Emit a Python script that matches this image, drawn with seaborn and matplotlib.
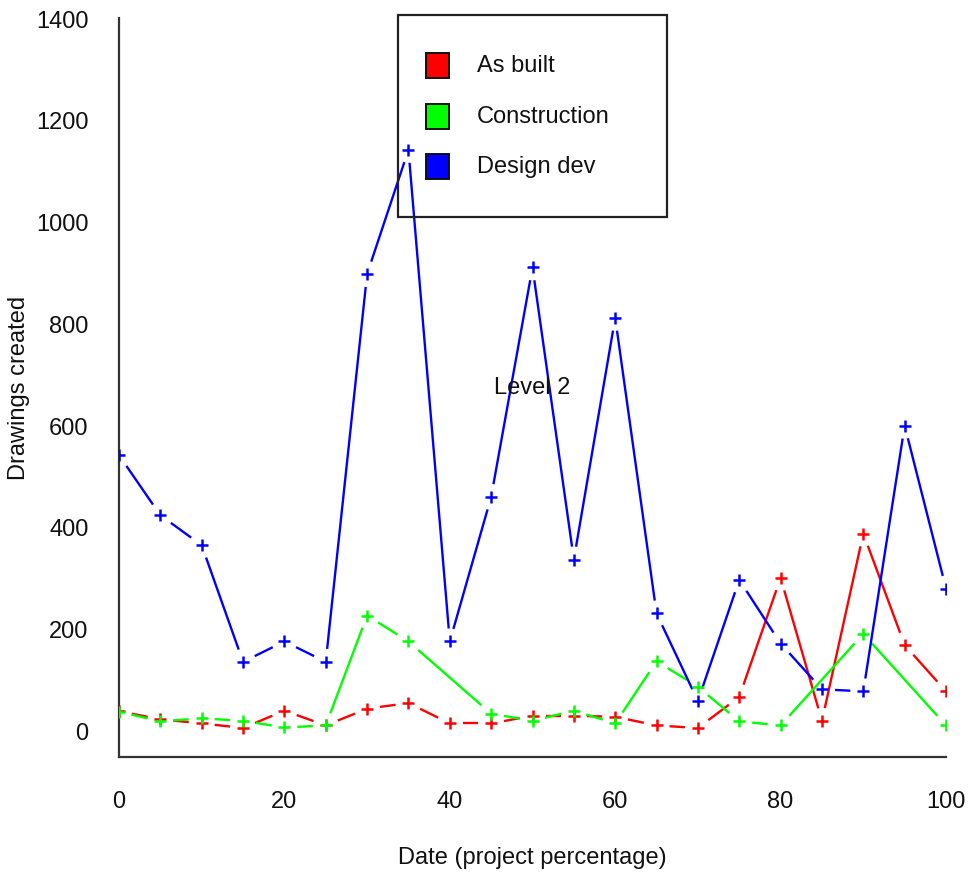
import numpy as np
import pandas as pd
import matplotlib
matplotlib.use("Agg")
import matplotlib.pyplot as plt
from matplotlib.collections import LineCollection
from matplotlib.patches import Rectangle
import seaborn as sns

# Drawings created per 5% step of the project
pct = [0, 5, 10, 15, 20, 25, 30, 35, 40, 45, 50, 55, 60, 65, 70, 75, 80, 85, 90, 95, 100]
as_built = [38, 22, 14, 5, 39, 10, 43, 54, 14, 14, 29, 29, 27, 10, 5, 66, 300, 19, 387, 168, 77]
design_dev = [541, 423, 364, 135, 175, 135, 897, 1141, 175, 459, 910, 336, 811, 230, 58, 296, 171, 81, 77, 599, 279]
# construction has no entries at 40, 85 and 95
constr_pct = [0, 5, 10, 15, 20, 25, 30, 35, 45, 50, 55, 60, 65, 70, 75, 80, 90, 100]
construction = [37, 18, 24, 19, 6, 10, 226, 175, 33, 19, 39, 14, 136, 86, 18, 10, 190, 10]

series_names = ["As built", "Construction", "Design dev"]
series_colors = ["#ff0000", "#00ff00", "#0000ff"]
y_ticks = [0, 200, 400, 600, 800, 1000, 1200, 1400]
x_ticks = [0, 20, 40, 60, 80, 100]

sns.set_style("white")
plt.rcParams["font.family"] = ["Liberation Sans", "DejaVu Sans"]

FS = 17
TXT = "#111111"
W, H = 973, 878
fig = plt.figure(figsize=(W / 100, H / 100), dpi=100)
ax = fig.add_axes([119 / W, 1 - 758 / H, (946 - 119) / W, (758 - 19) / H])
ax.set_xlim(0, 100)
ax.set_ylim(-52, 1400)

for s in ["top", "right"]:
    ax.spines[s].set_visible(False)
for s in ["left", "bottom"]:
    ax.spines[s].set_linewidth(1.6)
    ax.spines[s].set_color("#333333")

ax.set_xticks(x_ticks)
ax.set_yticks(y_ticks)
ax.tick_params(axis="both", direction="out", length=10, width=1.6, color="#333333",
               labelsize=FS, labelcolor=TXT)
ax.tick_params(axis="y", pad=12)
ax.tick_params(axis="x", pad=14)


def gapped_lines(xs, ys, color, gap=13):
    """Connect successive points with segments that stop short of each marker."""
    pts = ax.transData.transform(np.column_stack([xs, ys]))
    inv = ax.transData.inverted()
    segs = []
    for p0, p1 in zip(pts[:-1], pts[1:]):
        d = p1 - p0
        L = np.hypot(*d)
        if L <= 2 * gap:
            continue
        u = d / L
        segs.append(inv.transform(np.array([p0 + u * gap, p1 - u * gap])))
    ax.add_collection(LineCollection(segs, colors=color, linewidths=1.7))


frames = [
    pd.DataFrame({"pct": pct, "n": as_built}),
    pd.DataFrame({"pct": constr_pct, "n": construction}),
    pd.DataFrame({"pct": pct, "n": design_dev}),
]
for df, col in zip(frames, series_colors):
    gapped_lines(df["pct"].values, df["n"].values, col)
    sns.scatterplot(data=df, x="pct", y="n", marker="+", s=75, color=col,
                    linewidth=1.8, ax=ax, zorder=3)

ax.set_xlabel("Date (project percentage)", fontsize=FS, color=TXT, labelpad=24)
ax.set_ylabel("")

ax.text(50, 675, "Level 2", fontsize=FS, color=TXT, ha="center", va="center")


# Figure-pixel helpers for the annotations outside the data area
def fx(px):
    return px / W


def fy(py):
    return 1 - py / H


fig.text(fx(19), fy(388), "Drawings created", fontsize=FS, color=TXT,
         rotation=90, ha="center", va="center")

fig.patches.append(Rectangle((fx(398), fy(218)), fx(667) - fx(398), fy(16) - fy(218),
                             transform=fig.transFigure, fill=False, edgecolor="#222222",
                             linewidth=1.6, zorder=5))
for i, (name, col) in enumerate(zip(series_names, series_colors)):
    cy = 66.5 + 50.5 * i
    fig.patches.append(Rectangle((fx(426), fy(cy + 12.5)), fx(449) - fx(426), fy(cy - 12.5) - fy(cy + 12.5),
                                 transform=fig.transFigure, facecolor=col, edgecolor=TXT,
                                 linewidth=1.4, zorder=5))
    fig.text(fx(477), fy(cy), name, fontsize=FS, color=TXT, ha="left", va="center")

fig.savefig("out.png", dpi=100, facecolor="white")
